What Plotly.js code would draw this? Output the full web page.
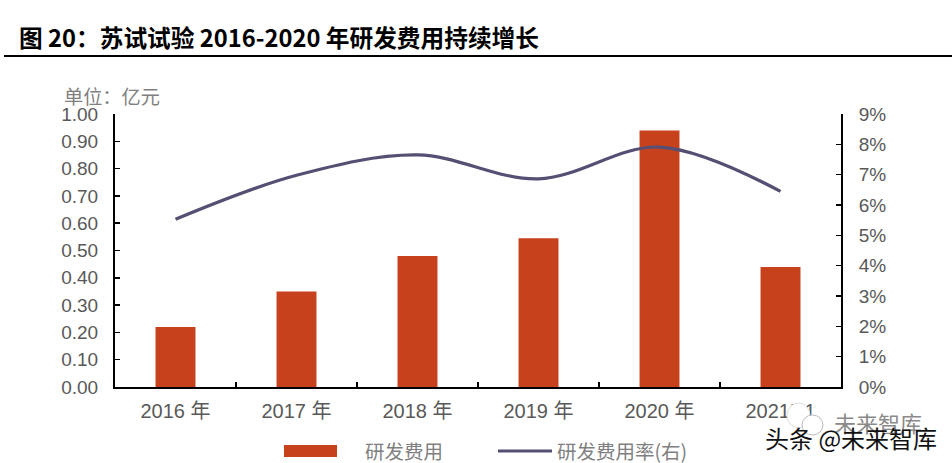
<!DOCTYPE html>
<html><head><meta charset="utf-8">
<script src="https://cdn.plot.ly/plotly-3.0.1.min.js"></script>
<style>html,body{margin:0;padding:0;background:#fff}</style></head>
<body><div id="c" style="width:952px;height:463px"></div>
<script>
const categories = ['2016 年','2017 年','2018 年','2019 年','2020 年','2021H1'];
const rdExpense = [0.22,0.35,0.48,0.545,0.94,0.44];
const rdRate = [0.0553,0.0698,0.0765,0.0686,0.0791,0.0645];
const leftTicks = [0,0.1,0.2,0.3,0.4,0.5,0.6,0.7,0.8,0.9,1];
const rightTicks = [0,0.01,0.02,0.03,0.04,0.05,0.06,0.07,0.08,0.09];
const titleText = '图 20：苏试试验 2016-2020 年研发费用持续增长';
const barName = '研发费用';
const lineName = '研发费用率(右)';
const barColor = '#C8411D';
const lineColor = '#574E73';
const grey = '#595959';
const latin = '"Liberation Sans","Noto Sans CJK SC",sans-serif';
const cjk = '"Noto Sans CJK SC",sans-serif';
const W = 726, H = 273;
const px = x => (x-115)/W, py = y => (387-y)/H;
const traces = [
 {type:'bar',name:barName,x:categories,y:rdExpense,width:0.33,marker:{color:barColor},hoverinfo:'skip'},
 {type:'scatter',mode:'lines',name:lineName,x:categories,y:rdRate,yaxis:'y2',
  line:{color:lineColor,width:3.2,shape:'spline',smoothing:1},hoverinfo:'skip'}
];
const axisCommon = {ticks:'inside',ticklen:5,tickwidth:1.5,tickcolor:'#000',showline:true,linecolor:'#000',linewidth:2,showgrid:false,zeroline:false,automargin:false};
const note = (text,x,y,size,color,family,anchor) => ({text,xref:'paper',yref:'paper',x:px(x),y:py(y),xanchor:anchor||'left',yanchor:'middle',showarrow:false,font:{size,color,family}});
const layout = {
 width:952,height:463,paper_bgcolor:'#fff',plot_bgcolor:'#fff',
 margin:{l:115,r:111,t:114,b:76},showlegend:false,
 font:{family:latin,color:grey,size:19},
 xaxis:Object.assign({},axisCommon,{type:'category',tickson:'boundaries',tickfont:{size:20,color:grey},ticklabelstandoff:5}),
 yaxis:Object.assign({},axisCommon,{range:[0,1],tickvals:leftTicks,tickformat:'.2f',tickfont:{size:19,color:grey},ticklabelstandoff:11}),
 yaxis2:Object.assign({},axisCommon,{range:[0,0.09],overlaying:'y',side:'right',tickvals:rightTicks,tickformat:'.0%',tickfont:{size:19,color:grey},ticklabelstandoff:12}),
 shapes:[
  {type:'line',xref:'paper',yref:'paper',x0:px(4),x1:px(952),y0:py(56),y1:py(56),line:{color:'#000',width:2}},
  {type:'rect',xref:'paper',yref:'paper',x0:px(284),x1:px(337),y0:py(445),y1:py(457),fillcolor:barColor,line:{width:0}},
  {type:'line',xref:'paper',yref:'paper',x0:px(498),x1:px(552),y0:py(451),y1:py(451),line:{color:lineColor,width:3}},
  {type:'circle',xref:'paper',yref:'paper',x0:px(787),x1:px(810),y0:py(403),y1:py(428),fillcolor:'#fff',line:{color:'#ddd',width:1}},
  {type:'circle',xref:'paper',yref:'paper',x0:px(802),x1:px(823),y0:py(415),y1:py(435),fillcolor:'#fff',line:{color:'#bbb',width:1}}
 ],
 annotations:[
  note('<b>'+titleText+'</b>',17,37,23.7,'#000',cjk),
  note('单位：亿元',62,96,19.2,'#7f7f7f',cjk),
  note(barName,363,450,19.5,'#7f7f7f',cjk),
  note(lineName,555,450,19.5,'#7f7f7f',cjk),
  note('未来智库',832,422,22,'#8a8a8a',cjk),
  note('头条 @未来智库',763,437,24,'#111',cjk)
 ]
};
Plotly.newPlot('c',traces,layout,{displayModeBar:false,staticPlot:true});
</script></body></html>
